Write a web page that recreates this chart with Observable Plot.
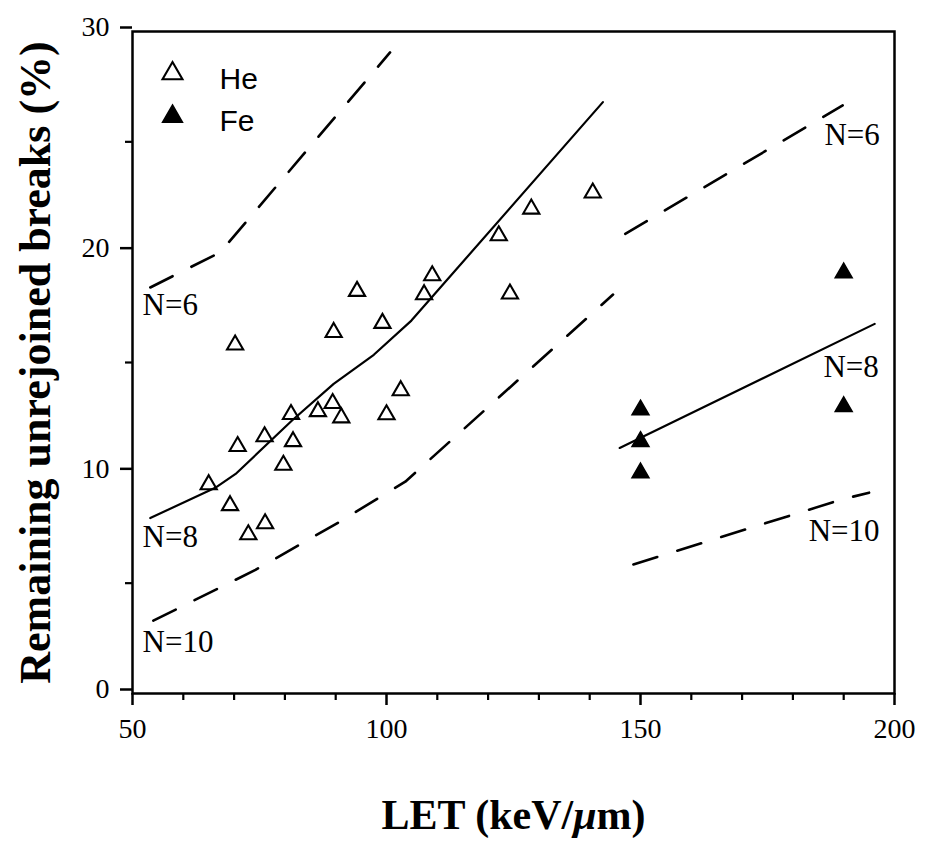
<!DOCTYPE html>
<html>
<head>
<meta charset="utf-8">
<script src="https://cdn.jsdelivr.net/npm/d3@7"></script>
<script src="https://cdn.jsdelivr.net/npm/@observablehq/plot@0.6"></script>
<style>
  html, body { margin: 0; padding: 0; background: white; }
  #chart svg { display: block; }
</style>
</head>
<body>
<div id="chart"></div>
<script>
// ---- axis ticks ----
const xMajorTicks = [50, 100, 150, 200];
const xMinorTicks = [60, 70, 80, 90, 110, 120, 130, 140, 160, 170, 180, 190];
const yMajorTicks = [0, 10, 20, 30];
const yMinorTicks = [5, 15, 25];

// ---- titles ----
const xTitle = "LET (keV/μm)";
const yTitle = "Remaining unrejoined breaks (%)";

// ---- legend ----
const legendNames = ["He", "Fe"];

// ---- He data (open triangles) ----
const heX = [65.0, 70.2, 70.7, 69.2, 72.8, 76.0, 76.1, 79.7, 81.2, 81.6, 86.5, 89.4, 89.6, 91.1, 94.2, 99.2, 100.0, 102.8, 107.4, 109.0, 122.1, 124.3, 128.5, 140.6];
const heY = [9.47, 15.8, 11.2, 8.52, 7.2, 11.64, 7.7, 10.35, 12.65, 11.42, 12.78, 13.15, 16.37, 12.5, 18.23, 16.78, 12.64, 13.73, 18.08, 18.94, 20.75, 18.11, 21.96, 22.69];

// ---- Fe data (filled triangles) ----
const feX = [150, 150, 150, 190, 190];
const feY = [12.85, 11.42, 10.0, 19.06, 13.0];

// ---- model curves ----
const he6X = [53.5, 67.3, 100.7];
const he6Y = [18.4, 20.0, 29.05];
const he8X = [53.5, 66.5, 70.3, 81.4, 89.6, 97.5, 104.9, 142.6];
const he8Y = [7.95, 9.35, 9.95, 12.37, 14.03, 15.35, 16.9, 26.8];
const he10X = [54.1, 74.2, 90.6, 103.7, 144.6];
const he10Y = [3.3, 5.6, 7.76, 9.6, 18.08];
const fe6X = [147.0, 189.8];
const fe6Y = [20.83, 26.65];
const fe8X = [145.9, 196.1];
const fe8Y = [11.13, 16.75];
const fe10X = [148.6, 189.7, 195.0];
const fe10Y = [5.85, 8.8, 9.1];

// ---- curve labels ----
const nLabelText = ["N=6", "N=8", "N=10", "N=6", "N=8", "N=10"];
const nLabelX = [51.97, 51.97, 51.97, 186.2, 186.0, 183.1];
const nLabelY = [17.13, 6.62, 1.86, 24.87, 14.36, 6.89];

const dash = "25,21";
const serif = "'Liberation Serif', 'Times New Roman', serif";
const sans = "'Liberation Sans', Arial, sans-serif";

const chart = Plot.plot({
  width: 925,
  height: 844,
  marginLeft: 132,
  marginRight: 31,
  marginTop: 31,
  marginBottom: 151,
  x: {domain: [50, 200], label: null},
  y: {domain: [0, 30], label: null},
  style: {fontFamily: serif, background: "white", color: "black", overflow: "visible"},
  marks: [
    Plot.frame({stroke: "black", strokeWidth: 2.5}),
    Plot.axisX(xMajorTicks, {tickSize: 12, tickPadding: 13, strokeWidth: 2.5, fontSize: 28, tickFormat: d => String(d), label: null}),
    Plot.axisX(xMinorTicks, {tickSize: 7, strokeWidth: 2.2, tickFormat: () => "", label: null}),
    Plot.axisY(yMajorTicks, {tickSize: 12, tickPadding: 11, strokeWidth: 2.5, fontSize: 28, dy: -4, tickFormat: d => String(d), label: null}),
    Plot.axisY(yMinorTicks, {tickSize: 7, strokeWidth: 2.2, tickFormat: () => "", label: null}),

    Plot.line(he6X, {x: d => d, y: he6Y, stroke: "black", strokeWidth: 2.6, strokeDasharray: dash}),
    Plot.line(he8X, {x: d => d, y: he8Y, stroke: "black", strokeWidth: 2.2}),
    Plot.line(he10X, {x: d => d, y: he10Y, stroke: "black", strokeWidth: 2.6, strokeDasharray: dash}),
    Plot.line(fe6X, {x: d => d, y: fe6Y, stroke: "black", strokeWidth: 2.6, strokeDasharray: dash}),
    Plot.line(fe8X, {x: d => d, y: fe8Y, stroke: "black", strokeWidth: 2.2}),
    Plot.line(fe10X, {x: d => d, y: fe10Y, stroke: "black", strokeWidth: 2.6, strokeDasharray: dash}),

    Plot.dot(heX, {x: d => d, y: heY, symbol: "triangle", r: 6, stroke: "black", strokeWidth: 2.1, fill: "none"}),
    Plot.dot(feX, {x: d => d, y: feY, symbol: "triangle", r: 6.3, stroke: "black", strokeWidth: 1.5, fill: "black"}),

    Plot.text(nLabelText, {x: nLabelX, y: nLabelY, text: d => d, textAnchor: "start", lineAnchor: "bottom", fontSize: 31, fill: "black"}),

    // legend
    Plot.dot([legendNames[0]], {frameAnchor: "top-left", dx: 40, dy: 42, symbol: "triangle", r: 7.4, stroke: "black", strokeWidth: 2.1, fill: "none"}),
    Plot.dot([legendNames[1]], {frameAnchor: "top-left", dx: 40, dy: 85, symbol: "triangle", r: 7.4, stroke: "black", strokeWidth: 1.5, fill: "black"}),
    Plot.text([legendNames[0]], {frameAnchor: "top-left", dx: 87, dy: 57, text: d => d, textAnchor: "start", lineAnchor: "bottom", fontSize: 30, fontFamily: sans, fill: "black"}),
    Plot.text([legendNames[1]], {frameAnchor: "top-left", dx: 87, dy: 99, text: d => d, textAnchor: "start", lineAnchor: "bottom", fontSize: 30, fontFamily: sans, fill: "black"}),

    // axis titles
    Plot.text([xTitle], {frameAnchor: "bottom", dy: 122, text: d => d, fontSize: 42, fontWeight: "bold", textAnchor: "middle", lineAnchor: "middle", fill: "black"}),
    Plot.text([yTitle], {frameAnchor: "left", dx: -97, rotate: -90, text: d => d, fontSize: 44, fontWeight: "bold", textAnchor: "middle", lineAnchor: "middle", fill: "black"})
  ]
});

// italic mu in the x title
chart.querySelectorAll("text").forEach(t => {
  if (t.textContent === xTitle) {
    const target = t.querySelector("tspan") || t;
    const parts = xTitle.split("μ");
    target.textContent = "";
    const ns = "http://www.w3.org/2000/svg";
    const a = document.createElementNS(ns, "tspan"); a.textContent = parts[0];
    const m = document.createElementNS(ns, "tspan"); m.textContent = "μ"; m.setAttribute("font-style", "italic");
    const b = document.createElementNS(ns, "tspan"); b.textContent = parts[1];
    target.append(a, m, b);
  }
});

document.getElementById("chart").appendChild(chart);
</script>
</body>
</html>
